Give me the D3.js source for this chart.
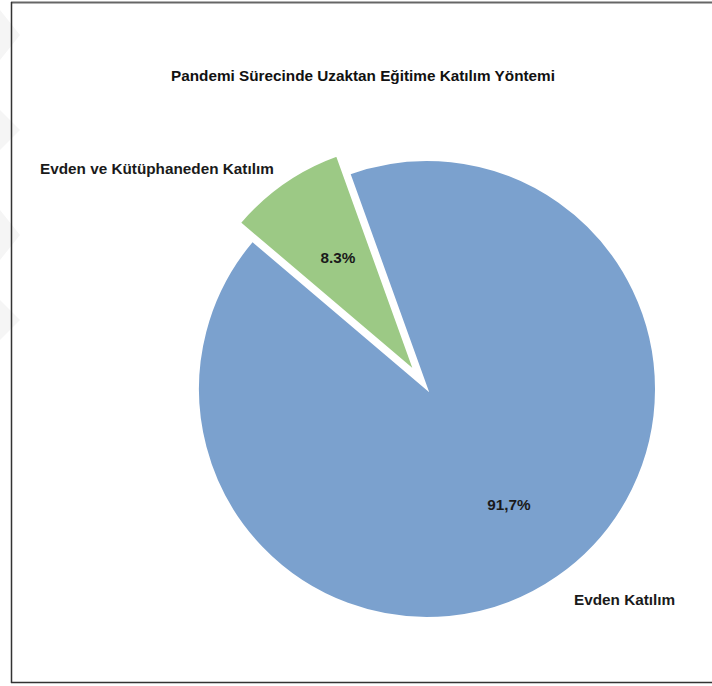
<!DOCTYPE html>
<html><head><meta charset="utf-8">
<script src="https://cdn.jsdelivr.net/npm/d3@7"></script>
<style>html,body{margin:0;padding:0;background:#fff;}svg{display:block;}</style>
</head><body>
<svg id="chart" width="712" height="686"></svg>
<script>
const title = "Pandemi Sürecinde Uzaktan Eğitime Katılım Yöntemi";
const categories = ["Evden Katılım", "Evden ve Kütüphaneden Katılım"];
const values = [91.7, 8.3];
const valueLabels = ["91,7%", "8.3%"];
const colors = ["#7ba1ce", "#9cc985"];
const exploded = [false, true];

const svg = d3.select("#chart");
const font = "'Liberation Sans', Arial, sans-serif";
const fs = 15.3;

// faint watermark on the left edge
const wm = svg.append("g").attr("fill", "#f5f5f5");
[[10,60],[110,150],[210,260],[300,340]].forEach(([a,b]) => {
  wm.append("path").attr("d", `M0,${a} L20,${a+ (b-a)/2} L0,${b} Z`);
});

// frame
svg.append("line").attr("x1",11).attr("x2",712).attr("y1",2.5).attr("y2",2.5).attr("stroke","#666").attr("stroke-width",2);
svg.append("line").attr("x1",11.5).attr("x2",11.5).attr("y1",2).attr("y2",683).attr("stroke","#333").attr("stroke-width",1.5);
svg.append("line").attr("x1",11).attr("x2",712).attr("y1",682.5).attr("y2",682.5).attr("stroke","#333").attr("stroke-width",1.5);

svg.append("text").attr("x", 363).attr("y", 81).attr("text-anchor","middle")
  .attr("font-family", font).attr("font-weight","bold").attr("font-size", fs).attr("fill","#111")
  .text(title);

const cx = 427, cy = 389, r = 229, explode = 22;
const deg = Math.PI/180;
const pie = d3.pie().sort(null).startAngle(-19.8*deg).endAngle(340.2*deg);
const arcs = pie(values);
const arc = d3.arc().innerRadius(0).outerRadius(r);

const g = svg.append("g").attr("transform", `translate(${cx},${cy})`);
arcs.forEach((a, i) => {
  const mid = (a.startAngle + a.endAngle)/2;
  const off = exploded[i] ? explode : 0;
  const dx = off*Math.sin(mid), dy = -off*Math.cos(mid);
  g.append("path").attr("d", arc(a)).attr("transform", `translate(${dx},${dy})`)
    .attr("fill", colors[i]).attr("stroke","#fff").attr("stroke-width",2).attr("stroke-linejoin","miter");
});

// labels
const valuePos = [[509, 510], [338, 263]];
const catPos = [[574, 605, "start"], [40, 174, "start"]];
arcs.forEach((a, i) => {
  svg.append("text").attr("x", valuePos[i][0]).attr("y", valuePos[i][1]).attr("text-anchor","middle")
    .attr("font-family", font).attr("font-weight","bold").attr("font-size", fs).attr("fill","#1a1a1a")
    .text(valueLabels[i]);
  svg.append("text").attr("x", catPos[i][0]).attr("y", catPos[i][1]).attr("text-anchor", catPos[i][2])
    .attr("font-family", font).attr("font-weight","bold").attr("font-size", fs).attr("fill","#1a1a1a")
    .text(categories[i]);
});
</script>
</body></html>
